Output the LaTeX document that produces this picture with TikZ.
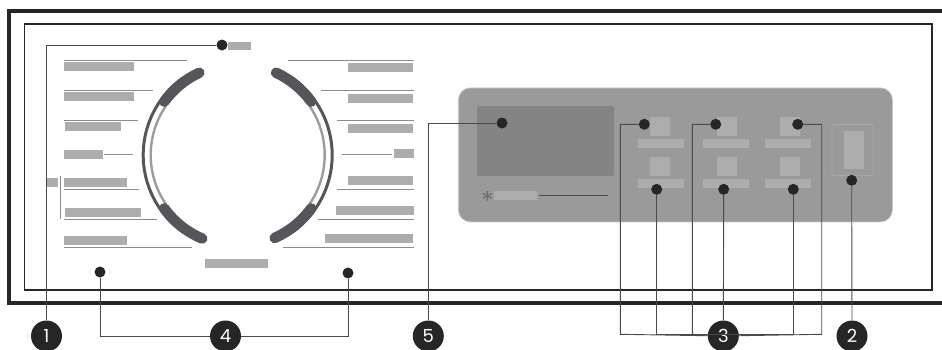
\documentclass[tikz,border=0pt]{standalone}
\usepackage{fontspec}
\setmainfont{Poppins}
\usetikzlibrary{positioning}
\definecolor{frameDark}{HTML}{262626}
\definecolor{barGrey}{HTML}{ADADAD}
\definecolor{ruleGrey}{HTML}{8C8C8C}
\definecolor{leaderDark}{HTML}{4A4A4A}
\definecolor{panelGrey}{HTML}{9A9A9A}
\definecolor{panelEdge}{HTML}{C6C6C6}
\definecolor{displayGrey}{HTML}{848484}
\definecolor{dialDark}{HTML}{55555C}
\definecolor{dialLight}{HTML}{9C9C9C}

\begin{document}
\begin{tikzpicture}[
    x=1pt,y=-1pt,
    dot/.style={circle, fill=frameDark, inner sep=0pt, minimum size=11pt},
    badge/.style={circle, fill=frameDark, text=white, inner sep=0pt, minimum size=31pt, font=\fontsize{18}{20}\selectfont},
    leader/.style={draw=leaderDark, line width=0.9pt},
    rulerline/.style={draw=ruleGrey, line width=0.9pt},
    dialthick/.style={draw=dialDark, line width=10.5pt, line cap=round}
]
    \useasboundingbox (0,0) rectangle (942,349);

    % frames
    \draw[frameDark, line width=3.6pt] (942,11) -- (9,11) -- (9,303) -- (942,303);
    \draw[frameDark, line width=1.6pt] (24.5,24) rectangle (931.7,290);

    % left and right labels
    \foreach \xa/\ya/\xb/\yb in {
        64/62/134/71, 64/92/134/101, 65/122/121/131, 64/150/103/159,
        64/178/127/187, 65/208/141/217, 64/236/127/245, 47/178/58/187,
        228/42/251/50, 205/259/268/268,
        348/63/413/72, 348/94/413/103, 348/124/413/133, 394/149/414/158,
        348/176/413/185, 336/206/414/215, 325/234/413/243}
        \fill[barGrey] (\xa,\ya) rectangle (\xb,\yb);
    \foreach \xa/\xb/\y in {
        64/187/60.5, 64/153/90.3, 64/138/120.3, 104/133/154.5,
        64/139/189.3, 64/157/219.3, 64/192/247.3,
        288/414/60.5, 321/414/90.3, 337/414/120.3, 342/392/154.5,
        337/414/189.3, 318/414/219.3, 283/414/247.3}
        \draw[rulerline] (\xa,\y) -- (\xb,\y);
    \draw[rulerline] (60.3,176) -- (60.3,219);

    % dial
    \coordinate (dial) at (237.7,155);
    \draw[dialLight, line width=2.4pt] (dial) ++(145:87) arc[start angle=145, end angle=215, radius=87];
    \draw[dialLight, line width=2.4pt] (dial) ++(35:87) arc[start angle=35, end angle=-35, radius=87];
    \draw[dialDark, line width=3pt] (dial) ++(125:94.5) arc[start angle=125, end angle=235, radius=94.5];
    \draw[dialDark, line width=3pt] (dial) ++(55:94.5) arc[start angle=55, end angle=-55, radius=94.5];
    \foreach \from/\to in {245/216, 113/144, -65/-36, 66/36}
        \draw[dialthick] (dial) ++(\from:90.8) arc[start angle=\from, end angle=\to, radius=90.8];

    % panel
    \node[draw=panelEdge, fill=panelGrey, line width=0.8pt, rounded corners=12pt, inner sep=0pt,
          minimum width=434pt, minimum height=134pt, anchor=north west] (panel) at (458,87.5) {};
    \fill[displayGrey, rounded corners=2pt] (477,106) rectangle (614,176);
    \node[text=displayGrey!85!black, font=\fontsize{26}{28}\selectfont] (star) at (487.5,201) {*};
    \fill[barGrey] (494,191) rectangle (537,200);
    \draw[leaderDark, line width=0.5pt] (539,195.5) -- (608,195.5);
    \foreach \xa/\xb/\xs in {638/684/650, 703/749/717, 765/811/780} {
        \fill[barGrey] (\xs,117) rectangle (\xs+20,136);
        \fill[barGrey] (\xa,139) rectangle (\xb,148);
        \fill[barGrey] (\xs,157) rectangle (\xs+20,176);
        \fill[barGrey] (\xa,179) rectangle (\xb,188);
    }
    \draw[panelEdge!85!black, line width=0.8pt, rounded corners=2pt] (832,124.5) rectangle (873,175.5);
    \fill[barGrey] (844,131) rectangle (864,169);

    % markers
    \node[dot] (d1) at (222,45) {};
    \node[dot] (d2) at (851.7,180.3) {};
    \node[dot] (d3a) at (644.3,124.3) {};
    \node[dot] (d3b) at (715.7,124.3) {};
    \node[dot] (d3c) at (797.7,124.3) {};
    \node[dot] (d3d) at (656.7,189.3) {};
    \node[dot] (d3e) at (723.7,189.3) {};
    \node[dot] (d3f) at (793.3,189.3) {};
    \node[dot] (d4a) at (100,272) {};
    \node[dot] (d4b) at (348,273) {};
    \node[dot] (d5) at (502,123) {};

    % badges
    \node[badge] (b1) at (46.5,336) {1};
    \node[badge] (b2) at (852,336) {2};
    \node[badge] (b3) at (723.3,336) {3};
    \node[badge] (b4) at (225.5,336) {4};
    \node[badge] (b5) at (428.3,336) {5};

    \coordinate (bus) at (723.3,334.3);
    \coordinate (busa) at (620.3,334.3);
    \coordinate (busb) at (692.3,334.3);
    \coordinate (busc) at (821.7,334.3);

    \draw[leader] (d1) -| (b1);
    \draw[leader] (d2) -- (b2);
    \draw[leader] (d3a) -| (busa) -- (b3);
    \draw[leader] (d3b) -| (busb) -- (b3);
    \draw[leader] (d3c) -| (busc) -- (b3);
    \draw[leader] (d3d) |- (bus);
    \draw[leader] (d3e) -- (b3);
    \draw[leader] (d3f) |- (bus);
    \draw[leader] (d4a) |- (b4);
    \draw[leader] (d4b) |- (b4);
    \draw[leader] (d5) -| (b5);
\end{tikzpicture}
\end{document}
